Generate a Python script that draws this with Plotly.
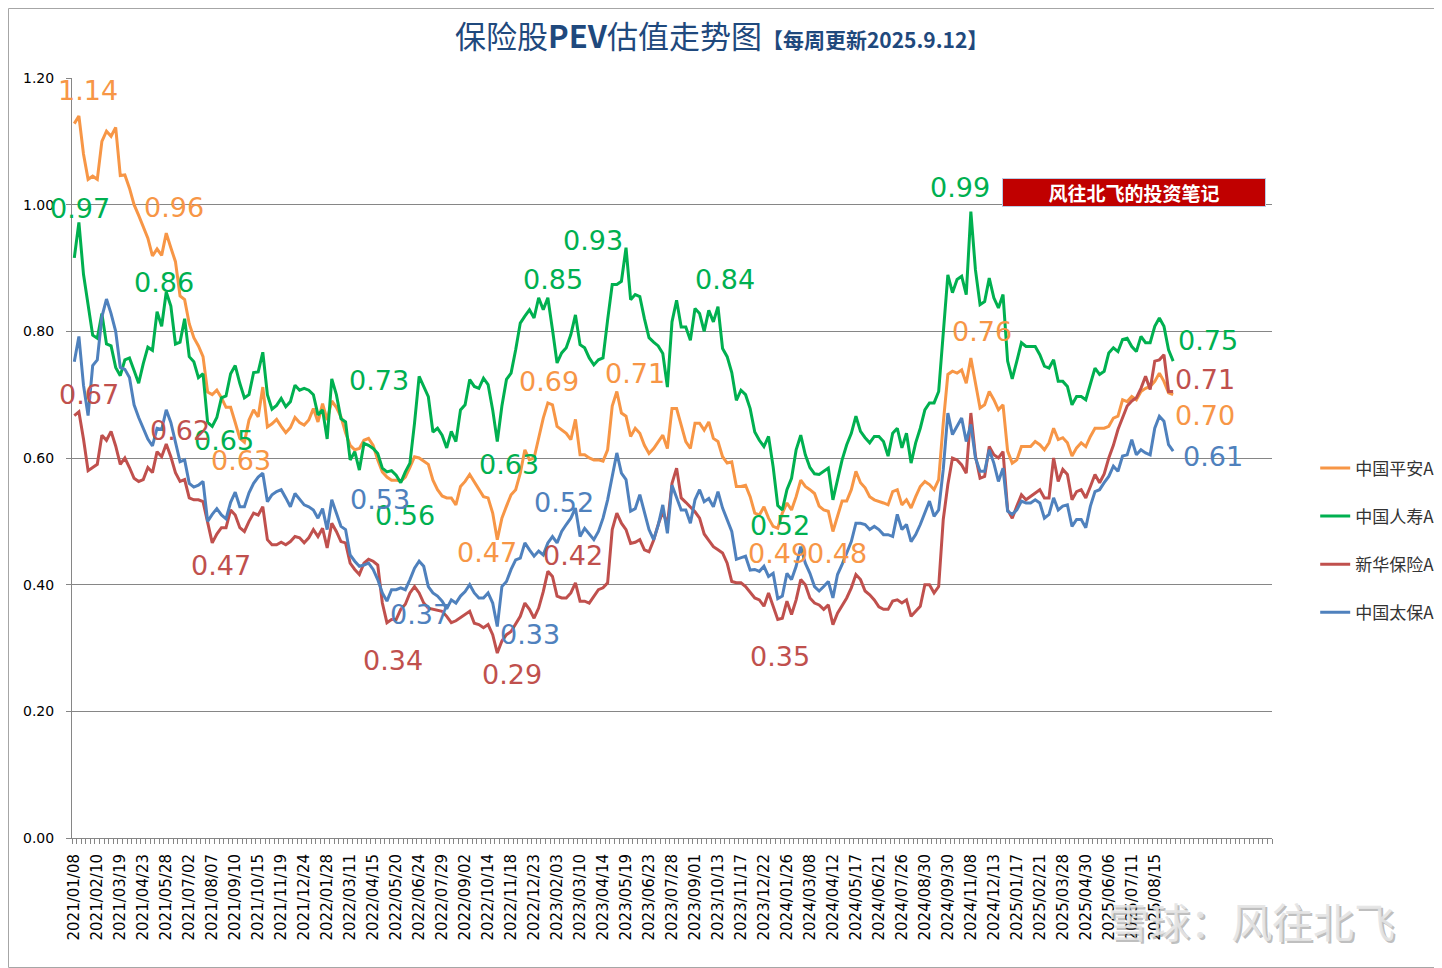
import plotly.graph_objects as go

# ---------------- data ----------------
tick_labels = ["2021/01/08","2021/02/10","2021/03/19","2021/04/23","2021/05/28","2021/07/02","2021/08/07",
               "2021/09/10","2021/10/15","2021/11/19","2021/12/24","2022/01/28","2022/03/11","2022/04/15",
               "2022/05/20","2022/06/24","2022/07/29","2022/09/02","2022/10/14","2022/11/18","2022/12/23",
               "2023/02/03","2023/03/10","2023/04/14","2023/05/19","2023/06/23","2023/07/28","2023/09/01",
               "2023/10/13","2023/11/17","2023/12/22","2024/01/26","2024/03/08","2024/04/12","2024/05/17",
               "2024/06/21","2024/07/26","2024/08/30","2024/09/30","2024/11/08","2024/12/13","2025/01/17",
               "2025/02/21","2025/03/28","2025/04/30","2025/06/06","2025/07/11","2025/08/15"]
n_categories = 261   # weekly category slots on the axis (incl. empty future rows)
label_every = 5

pingan = [1.128,1.14,1.08,1.04,1.045,1.04,1.10,1.116,1.108,1.122,
          1.046,1.047,1.026,1.00,0.983,0.964,0.947,0.919,0.93,0.92,
          0.955,0.932,0.91,0.856,0.85,0.812,0.79,0.777,0.76,0.704,
          0.70,0.707,0.695,0.68,0.68,0.656,0.631,0.625,0.66,0.676,
          0.665,0.712,0.649,0.654,0.661,0.65,0.64,0.648,0.664,0.656,
          0.652,0.66,0.678,0.657,0.686,0.66,0.69,0.68,0.665,0.64,
          0.62,0.613,0.615,0.628,0.631,0.62,0.597,0.578,0.57,0.565,
          0.565,0.563,0.57,0.585,0.602,0.60,0.595,0.59,0.565,0.55,
          0.54,0.537,0.537,0.526,0.555,0.563,0.574,0.563,0.55,0.539,
          0.537,0.513,0.471,0.505,0.524,0.542,0.55,0.576,0.613,0.597,
          0.60,0.634,0.663,0.687,0.684,0.65,0.645,0.639,0.629,0.661,
          0.605,0.605,0.60,0.597,0.597,0.595,0.613,0.682,0.705,0.671,
          0.666,0.634,0.647,0.639,0.62,0.607,0.615,0.626,0.636,0.615,
          0.678,0.678,0.652,0.626,0.615,0.655,0.655,0.644,0.657,0.631,
          0.626,0.602,0.592,0.594,0.555,0.555,0.557,0.539,0.513,0.51,
          0.523,0.505,0.492,0.489,0.513,0.529,0.518,0.539,0.565,0.555,
          0.55,0.544,0.524,0.518,0.516,0.484,0.508,0.532,0.532,0.55,
          0.579,0.561,0.553,0.539,0.534,0.532,0.529,0.526,0.547,0.55,
          0.526,0.534,0.521,0.539,0.555,0.563,0.558,0.55,0.566,0.655,
          0.732,0.737,0.734,0.739,0.718,0.758,0.718,0.679,0.684,0.705,
          0.692,0.676,0.684,0.611,0.592,0.597,0.618,0.618,0.618,0.626,
          0.621,0.613,0.624,0.647,0.629,0.632,0.624,0.603,0.616,0.624,
          0.618,0.634,0.647,0.647,0.647,0.65,0.663,0.666,0.692,0.689,
          0.697,0.692,0.705,0.71,0.713,0.721,0.734,0.721,0.703,0.70]

renshou = [0.916,0.972,0.89,0.845,0.794,0.789,0.828,0.78,0.777,0.743,
           0.73,0.755,0.758,0.738,0.718,0.749,0.775,0.77,0.831,0.808,
           0.862,0.84,0.78,0.783,0.82,0.76,0.752,0.727,0.733,0.656,
           0.65,0.664,0.695,0.698,0.733,0.746,0.718,0.695,0.70,0.735,
           0.736,0.767,0.70,0.677,0.683,0.694,0.681,0.689,0.715,0.707,
           0.71,0.707,0.70,0.668,0.676,0.63,0.725,0.70,0.662,0.657,
           0.597,0.61,0.581,0.623,0.62,0.615,0.607,0.584,0.578,0.58,
           0.573,0.561,0.578,0.592,0.655,0.729,0.712,0.697,0.641,0.647,
           0.636,0.616,0.642,0.626,0.676,0.684,0.724,0.713,0.71,0.726,
           0.716,0.676,0.626,0.682,0.724,0.734,0.771,0.813,0.824,0.834,
           0.821,0.853,0.834,0.853,0.803,0.75,0.766,0.774,0.795,0.826,
           0.779,0.774,0.758,0.747,0.755,0.758,0.818,0.874,0.874,0.879,
           0.932,0.85,0.858,0.855,0.82,0.79,0.783,0.777,0.765,0.712,
           0.815,0.849,0.807,0.807,0.786,0.836,0.828,0.80,0.833,0.815,
           0.839,0.773,0.76,0.735,0.691,0.707,0.70,0.678,0.641,0.628,
           0.618,0.634,0.586,0.525,0.518,0.55,0.568,0.613,0.636,0.605,
           0.585,0.575,0.574,0.579,0.584,0.534,0.566,0.597,0.621,0.639,
           0.666,0.642,0.632,0.624,0.634,0.634,0.626,0.603,0.639,0.647,
           0.616,0.639,0.592,0.624,0.647,0.676,0.687,0.687,0.705,0.79,
           0.889,0.861,0.882,0.887,0.858,0.989,0.897,0.842,0.847,0.884,
           0.853,0.837,0.858,0.753,0.725,0.753,0.782,0.776,0.776,0.776,
           0.763,0.745,0.742,0.755,0.721,0.721,0.713,0.684,0.697,0.697,
           0.692,0.718,0.742,0.732,0.737,0.766,0.774,0.768,0.787,0.789,
           0.776,0.768,0.792,0.782,0.782,0.808,0.821,0.808,0.771,0.753]

xinhua = [0.667,0.673,0.63,0.58,0.585,0.59,0.636,0.628,0.642,0.619,
          0.59,0.60,0.585,0.568,0.563,0.566,0.585,0.577,0.61,0.602,
          0.622,0.602,0.577,0.563,0.566,0.537,0.534,0.534,0.531,0.50,
          0.466,0.48,0.49,0.49,0.518,0.51,0.49,0.484,0.50,0.513,
          0.51,0.523,0.471,0.463,0.463,0.467,0.463,0.468,0.476,0.474,
          0.466,0.474,0.487,0.476,0.489,0.458,0.497,0.484,0.468,0.466,
          0.434,0.424,0.416,0.434,0.44,0.437,0.431,0.371,0.34,0.345,
          0.345,0.361,0.369,0.387,0.397,0.387,0.371,0.363,0.361,0.36,
          0.358,0.35,0.34,0.343,0.348,0.352,0.358,0.339,0.337,0.332,
          0.337,0.321,0.292,0.311,0.321,0.326,0.339,0.35,0.371,0.361,
          0.347,0.363,0.389,0.421,0.413,0.382,0.379,0.379,0.387,0.403,
          0.374,0.374,0.371,0.382,0.392,0.395,0.403,0.487,0.513,0.497,
          0.487,0.465,0.467,0.471,0.455,0.452,0.47,0.495,0.515,0.495,
          0.56,0.584,0.537,0.53,0.522,0.515,0.505,0.48,0.47,0.46,
          0.455,0.45,0.434,0.405,0.403,0.403,0.397,0.387,0.379,0.376,
          0.366,0.387,0.366,0.345,0.347,0.374,0.353,0.376,0.408,0.40,
          0.379,0.371,0.368,0.361,0.368,0.337,0.355,0.368,0.379,0.395,
          0.416,0.408,0.39,0.384,0.376,0.365,0.361,0.361,0.374,0.376,
          0.371,0.376,0.35,0.358,0.366,0.40,0.40,0.387,0.397,0.503,
          0.558,0.60,0.597,0.589,0.576,0.671,0.603,0.568,0.571,0.618,
          0.605,0.60,0.61,0.518,0.505,0.524,0.542,0.534,0.539,0.545,
          0.55,0.537,0.537,0.60,0.563,0.582,0.574,0.534,0.547,0.55,
          0.537,0.555,0.574,0.561,0.575,0.60,0.62,0.645,0.665,0.682,
          0.69,0.695,0.71,0.729,0.708,0.753,0.755,0.763,0.705,0.705]

taibao = [0.752,0.792,0.715,0.667,0.746,0.755,0.823,0.851,0.828,0.80,
          0.743,0.74,0.727,0.684,0.664,0.647,0.63,0.619,0.647,0.645,
          0.676,0.656,0.625,0.594,0.597,0.56,0.554,0.557,0.563,0.50,
          0.511,0.52,0.51,0.504,0.53,0.546,0.523,0.523,0.545,0.56,
          0.57,0.576,0.531,0.542,0.547,0.55,0.537,0.523,0.544,0.534,
          0.526,0.523,0.518,0.505,0.52,0.487,0.534,0.513,0.492,0.487,
          0.447,0.437,0.429,0.431,0.434,0.424,0.408,0.387,0.374,0.392,
          0.392,0.395,0.392,0.408,0.426,0.437,0.429,0.397,0.387,0.382,
          0.374,0.362,0.376,0.371,0.382,0.389,0.40,0.387,0.379,0.379,
          0.387,0.371,0.334,0.397,0.405,0.424,0.439,0.442,0.466,0.455,
          0.445,0.453,0.447,0.466,0.476,0.466,0.484,0.495,0.505,0.521,
          0.476,0.489,0.479,0.471,0.484,0.505,0.534,0.571,0.608,0.576,
          0.566,0.516,0.52,0.542,0.515,0.487,0.471,0.494,0.526,0.481,
          0.557,0.539,0.518,0.518,0.497,0.534,0.55,0.531,0.536,0.523,
          0.547,0.521,0.502,0.484,0.44,0.442,0.445,0.423,0.424,0.421,
          0.429,0.413,0.418,0.378,0.382,0.418,0.408,0.429,0.46,0.434,
          0.418,0.397,0.39,0.397,0.405,0.379,0.416,0.432,0.45,0.468,
          0.497,0.497,0.495,0.487,0.492,0.487,0.479,0.479,0.476,0.511,
          0.487,0.495,0.468,0.479,0.495,0.513,0.532,0.508,0.518,0.582,
          0.671,0.637,0.65,0.663,0.626,0.653,0.60,0.579,0.579,0.613,
          0.592,0.563,0.584,0.516,0.511,0.518,0.532,0.529,0.529,0.534,
          0.529,0.505,0.511,0.537,0.518,0.524,0.526,0.492,0.503,0.503,
          0.49,0.524,0.547,0.55,0.561,0.571,0.587,0.579,0.603,0.605,
          0.629,0.605,0.613,0.608,0.605,0.647,0.666,0.658,0.621,0.611]

series_names = ["中国平安A", "中国人寿A", "新华保险A", "中国太保A"]
series_values = [pingan, renshou, xinhua, taibao]
series_colors = ["#F79646", "#00B050", "#C0504D", "#4F81BD"]

# data labels: (series index, point index, text, x offset px, y offset px)
point_labels = [
    (0, 1, "1.14", 9, 26), (0, 15, "0.96", 31, 20), (0, 36, "0.63", 1, -22),
    (0, 92, "0.47", -10, -13), (0, 103, "0.69", 1, 21), (0, 118, "0.71", 18, 18),
    (0, 153, "0.49", 0, -25), (0, 165, "0.48", 4, -22), (0, 195, "0.76", 11, 26),
    (0, 239, "0.70", 32, -21),
    (1, 1, "0.97", 1, 14), (1, 20, "0.86", -2, 10), (1, 30, "0.65", 12, -14),
    (1, 75, "0.73", -40, -4), (1, 71, "0.56", 4, -33), (1, 92, "0.63", 12, -23),
    (1, 101, "0.85", 14, 18), (1, 120, "0.93", -33, 7), (1, 140, "0.84", 7, 27),
    (1, 154, "0.52", -2, -16), (1, 195, "0.99", -11, 24), (1, 239, "0.75", 35, 21),
    (2, 1, "0.67", 10, 17), (2, 20, "0.62", 14, 14), (2, 30, "0.47", 9, -23),
    (2, 68, "0.34", 6, -38), (2, 92, "0.29", 15, -21), (2, 103, "0.42", 25, 16),
    (2, 153, "0.35", 2, -37), (2, 239, "0.71", 32, 12),
    (3, 56, "0.53", 48, 0), (3, 68, "0.37", 33, -13), (3, 92, "0.33", 33, -8),
    (3, 109, "0.52", -11, 6), (3, 239, "0.61", 40, -5),
]

# ---------------- figure ----------------
# page has an 8px body margin; figure is sized so the plot area lands where the reference has it
FIG_W, FIG_H = 1434, 960
ML, MR, MT, MB = 64, 170, 70, 130
PW, PH = FIG_W - ML - MR, FIG_H - MT - MB

fig = go.Figure()
for name, vals, col in zip(series_names, series_values, series_colors):
    fig.add_trace(go.Scatter(
        x=list(range(len(vals))), y=vals, mode="lines", name=name,
        line=dict(color=col, width=3), legendgroup=name,
        hoverinfo="x+y"))

for si, pi, txt, dx, dy in point_labels:
    fig.add_annotation(x=pi, y=series_values[si][pi], xref="x", yref="y",
                       text=txt, showarrow=False, xshift=dx, yshift=dy,
                       xanchor="center", yanchor="middle",
                       font=dict(family="DejaVu Sans", size=27, color=series_colors[si]))

tickvals = [i * label_every for i in range(len(tick_labels))]

fig.update_layout(
    width=FIG_W, height=FIG_H,
    margin=dict(l=ML, r=MR, t=MT, b=MB, autoexpand=False),
    paper_bgcolor="white", plot_bgcolor="white",
    showlegend=True,
    legend=dict(x=1.036, xanchor="left", y=0.51, yanchor="top",
                font=dict(family="Noto Sans CJK SC", size=17, color="#333333"),
                tracegroupgap=23, itemwidth=30, bgcolor="rgba(0,0,0,0)"),
    xaxis=dict(range=[-0.5, n_categories - 0.5], tickmode="array", tickvals=tickvals,
               ticktext=tick_labels, tickangle=-90, ticks="", showgrid=False,
               zeroline=False, showline=True, linecolor="#868686", linewidth=1,
               ticklabelstandoff=9,
               tickfont=dict(family="DejaVu Sans", size=15, color="black"),
               minor=dict(ticks="outside", tick0=0.5, dtick=1, ticklen=5,
                          tickcolor="#868686", tickwidth=1, showgrid=False)),
    yaxis=dict(range=[0, 1.2], dtick=0.2, tickformat=".2f", showgrid=True,
               gridcolor="#868686", gridwidth=1, zeroline=False, showline=True,
               linecolor="#868686", linewidth=1, ticks="outside", ticklen=5,
               tickcolor="#868686", ticklabelstandoff=9,
               tickfont=dict(family="DejaVu Sans", size=14, color="black")),
)

# title
fig.add_annotation(xref="paper", yref="paper", x=0.541, y=1.0566, showarrow=False,
                   xanchor="center", yanchor="middle",
                   text="保险股<b>PEV</b>估值走势图<span style='font-size:21px'><b>【每周更新2025.9.12】</b></span>",
                   font=dict(family="Noto Sans CJK SC", size=31, color="#1F497D"))
# red banner
fig.add_annotation(xref="paper", yref="paper", x=0.8854, y=0.8487, showarrow=False,
                   xanchor="center", yanchor="middle",
                   text="<b>风往北飞的投资笔记</b>", bgcolor="#C00000", bordercolor="#B9CDE5",
                   borderwidth=1, width=260, height=25,
                   font=dict(family="Noto Sans CJK SC", size=19, color="white"))
# watermark
for dx, dy, col in [(2, -2, "rgba(110,110,110,0.45)"), (0, 0, "rgba(228,228,228,0.92)")]:
    fig.add_annotation(xref="paper", yref="paper", x=0.9833, y=-0.108, showarrow=False,
                       xanchor="center", yanchor="middle",
                       text="雪球：风往北飞", xshift=dx, yshift=dy,
                       font=dict(family="Noto Sans CJK SC", size=41, color=col))
# outer border around the whole chart
fig.add_shape(type="rect", xref="paper", yref="paper",
              x0=(0.5 - ML) / PW, x1=(FIG_W - 0.5 - ML) / PW,
              y0=(PH + MT - FIG_H + 0.5) / PH, y1=(PH + MT - 0.5) / PH,
              line=dict(color="#A6A6A6", width=1), fillcolor="rgba(0,0,0,0)")

fig.write_html("out.html")
